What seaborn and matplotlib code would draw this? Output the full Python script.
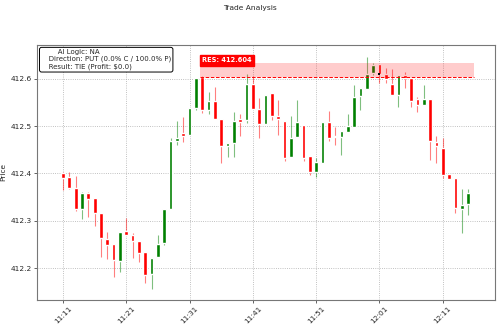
import pandas as pd
import matplotlib
matplotlib.use("Agg")
from matplotlib import pyplot as plt
import matplotlib.dates as mdates
import seaborn as sns

opens = [412.400, 412.392, 412.370, 412.325, 412.359, 412.348, 412.316, 412.262, 412.250, 412.215,
         412.279, 412.271, 412.257, 412.234, 412.188, 412.223, 412.254, 412.324, 412.469, 412.485,
         412.481, 412.538, 412.604, 412.535, 412.553, 412.514, 412.457, 412.464, 412.514, 412.513,
         412.589, 412.536, 412.504, 412.570, 412.521, 412.510, 412.435, 412.476, 412.502, 412.437,
         412.404, 412.421, 412.509, 412.480, 412.476, 412.488, 412.499, 412.564, 412.578, 412.613,
         412.631, 412.609, 412.588, 412.566, 412.607, 412.601, 412.557, 412.545, 412.557, 412.466,
         412.454, 412.399, 412.390, 412.324, 412.335]
highs = [412.404, 412.402, 412.395, 412.360, 412.360, 412.349, 412.317, 412.277, 412.251, 412.277,
         412.305, 412.274, 412.258, 412.235, 412.222, 412.270, 412.324, 412.474, 412.511, 412.519,
         412.538, 412.602, 412.605, 412.571, 412.583, 412.514, 412.464, 412.529, 412.525, 412.610,
         412.606, 412.560, 412.566, 412.570, 412.555, 412.510, 412.521, 412.555, 412.502, 412.437,
         412.432, 412.508, 412.532, 412.499, 412.490, 412.525, 412.587, 412.580, 412.646, 412.634,
         412.632, 412.622, 412.620, 412.608, 412.615, 412.601, 412.562, 412.587, 412.557, 412.479,
         412.474, 412.399, 412.390, 412.367, 412.367]
lows = [412.365, 412.367, 412.321, 412.304, 412.307, 412.288, 412.223, 412.220, 412.182, 412.192,
        412.271, 412.222, 412.212, 412.168, 412.156, 412.223, 412.249, 412.324, 412.460, 412.467,
        412.481, 412.533, 412.527, 412.526, 412.514, 412.421, 412.434, 412.434, 412.479, 412.506,
        412.536, 412.474, 412.504, 412.513, 412.481, 412.427, 412.435, 412.476, 412.426, 412.397,
        412.393, 412.421, 412.468, 412.460, 412.439, 412.488, 412.499, 412.535, 412.578, 412.608,
        412.590, 412.590, 412.566, 412.540, 412.580, 412.540, 412.529, 412.545, 412.429, 412.421,
        412.390, 412.388, 412.316, 412.274, 412.312]
closes = [412.391, 412.369, 412.325, 412.359, 412.347, 412.317, 412.263, 412.249, 412.217, 412.277,
          412.271, 412.258, 412.232, 412.186, 412.222, 412.250, 412.324, 412.469, 412.474, 412.479,
          412.538, 412.602, 412.535, 412.553, 412.514, 412.457, 412.464, 412.511, 412.509, 412.589,
          412.536, 412.504, 412.566, 412.521, 412.516, 412.432, 412.475, 412.509, 412.433, 412.404,
          412.425, 412.508, 412.475, 412.476, 412.490, 412.500, 412.562, 412.580, 412.610, 412.629,
          412.611, 412.599, 412.566, 412.608, 412.601, 412.554, 412.545, 412.557, 412.469, 412.458,
          412.397, 412.388, 412.327, 412.333, 412.358]

res_level = 412.604
zone_top = 412.633
entry_time = "2024-01-01 12:01"
entry_price = 412.609
info_lines = ["       AI Logic: NA", "   Direction: PUT (0.0% C / 100.0% P)", "   Result: TIE (Profit: $0.0)"]

times = pd.date_range("2024-01-01 11:11", periods=len(opens), freq="min")
df = pd.DataFrame({"time": times, "open": opens, "high": highs, "low": lows, "close": closes})
df["x"] = mdates.date2num(df["time"])
df["up"] = df["close"] >= df["open"]
df["color"] = df["up"].map({True: "green", False: "red"})

sns.set_style("ticks")
fig, ax = plt.subplots(figsize=(5, 3.27), dpi=100)
fig.subplots_adjust(left=0.074, right=0.99, bottom=0.083, top=0.862)

minute = 1 / 1440
ax.vlines(df["x"], df["low"], df["high"], colors=df["color"], linewidth=0.8, alpha=0.5, zorder=2)
body_lo = df[["open", "close"]].min(axis=1)
body_h = (df["close"] - df["open"]).abs().clip(lower=0.002)
ax.bar(df["x"], body_h, bottom=body_lo, width=0.6 * minute, color=df["color"], zorder=3)

# resistance zone
z0 = df["x"].iloc[22] - 0.4 * minute
z1 = df["x"].iloc[-1] + 1.0 * minute
ax.fill_between([z0, z1], res_level, zone_top, color="red", alpha=0.2, linewidth=0, zorder=4)
ax.hlines(res_level, z0, z1, colors="red", linestyles="--", linewidth=0.7, zorder=4)
ax.text(z0 + 0.4 * minute, res_level + 0.035, f"RES: {res_level}", color="white", fontsize=4.8,
        fontweight="bold", ha="left", va="center", zorder=6,
        bbox=dict(boxstyle="square,pad=0.35", fc="red", ec="red"))

sns.scatterplot(x=[mdates.date2num(pd.Timestamp(entry_time))], y=[entry_price], ax=ax,
                color="black", marker="s", s=3, linewidth=0, zorder=5)

ax.text(0.01, 0.985, "\n".join(info_lines), transform=ax.transAxes, fontsize=5.0,
        ha="left", va="top", linespacing=1.2, zorder=7,
        bbox=dict(boxstyle="round,pad=0.3", fc="white", ec="black", lw=0.7))

ax.set_xlim(df["x"].iloc[0] - 4.1 * minute, df["x"].iloc[-1] + 4.25 * minute)
ax.set_ylim(412.133, 412.671)
ax.set_yticks([412.2, 412.3, 412.4, 412.5, 412.6])
ax.xaxis.set_major_locator(mdates.MinuteLocator(byminute=[1, 11, 21, 31, 41, 51]))
ax.xaxis.set_major_formatter(mdates.DateFormatter("%H:%M"))
plt.setp(ax.get_xticklabels(), rotation=45, ha="center")
ax.tick_params(labelsize=5.3, length=2, width=0.5, pad=2)
ax.set_ylabel("Price", fontsize=5.3, labelpad=3)
ax.grid(True, linestyle=":", color="#999999", linewidth=0.6, alpha=0.8)
for s in ax.spines.values():
    s.set_color("#777777")
    s.set_linewidth(0.8)

fig.suptitle("Trade Analysis", fontsize=5.4, y=0.985)
fig.savefig("out.png", dpi=100)
